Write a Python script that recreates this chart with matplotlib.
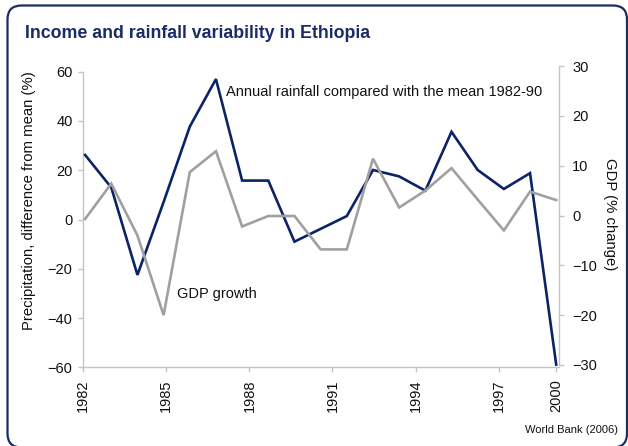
import matplotlib
matplotlib.use("Agg")
import matplotlib.pyplot as plt
from matplotlib.patches import FancyBboxPatch
from matplotlib.transforms import IdentityTransform

plt.rcParams['font.family'] = ['Liberation Sans', 'DejaVu Sans']

# Data
years = list(range(1982, 2001))
rainfall = [26.2, 13.0, -22.5, 7.1, 37.7, 57.0, 15.8, 15.8, -9.0, -3.8,
            1.4, 20.1, 17.5, 11.7, 35.6, 20.1, 12.4, 18.8, -58.9]
gdp_growth = [-0.7, 6.4, -4.0, -20.0, 8.7, 12.9, -2.2, -0.1, -0.1, -6.8,
              -6.8, 11.4, 1.6, 5.0, 9.5, 3.2, -3.0, 4.8, 3.1]
xtick_labels = ['1982', '1985', '1988', '1991', '1994', '1997', '2000']
xtick_pos = [1981.92, 1985.10, 1988.28, 1991.45, 1994.63, 1997.81, 2000.0]
left_ticks = [-60, -40, -20, 0, 20, 40, 60]
right_ticks = [-30, -20, -10, 0, 10, 20, 30]

NAVY = '#0c2365'
FRAME = '#1b2b68'
GREY = '#a0a0a0'
AXIS = '#c4c4c4'
TXT = '#111111'

W, H = 628, 446
fig = plt.figure(figsize=(W / 100, H / 100), dpi=100)

def box(x0, y_top, x1, y_bot):
    return [x0 / W, (H - y_bot) / H, (x1 - x0) / W, (y_bot - y_top) / H]

ax = fig.add_axes(box(83, 71.7, 559, 367.3))
ax2 = fig.add_axes(box(83, 66, 559, 365), sharex=ax)
ax2.patch.set_visible(False)

ax.plot(years, rainfall, color=NAVY, lw=1.9, solid_joinstyle='miter', zorder=3)
ax2.plot(years, gdp_growth, color=GREY, lw=1.9, solid_joinstyle='miter', zorder=2)

ax.set_xlim(1981.924, 2000.107)
ax.set_ylim(-60, 60)
ax2.set_ylim(-30, 30)

for s in ['top', 'right']:
    ax.spines[s].set_visible(False)
for s in ['left', 'bottom']:
    ax.spines[s].set_color(AXIS)
    ax.spines[s].set_linewidth(1.0)
for s in ['top', 'left', 'bottom']:
    ax2.spines[s].set_visible(False)
ax2.spines['right'].set_color(AXIS)
ax2.spines['right'].set_linewidth(1.0)

ax.set_yticks(left_ticks)
ax.set_xticks(xtick_pos)
ax.set_xticklabels(xtick_labels, rotation=90)
ax.tick_params(axis='both', colors=AXIS, labelcolor=TXT, labelsize=10.5,
               length=3.5, width=1.0, direction='out')
ax.tick_params(axis='y', pad=4)
ax.tick_params(axis='x', pad=5)

ax2.yaxis.tick_right()
ax2.set_yticks(right_ticks)
ax2.tick_params(axis='y', colors=AXIS, labelcolor=TXT, labelsize=10.5,
                length=3.5, width=1.0, direction='out', pad=6)
ax2.tick_params(axis='x', bottom=False, labelbottom=False)

fig.text(29 / W, 1 - 201 / H, 'Precipitation, difference from mean (%)',
         rotation=90, ha='center', va='center', fontsize=10.7, color=TXT)
fig.text(610 / W, 1 - 214 / H, 'GDP (% change)', rotation=-90,
         ha='center', va='center', fontsize=10.7, color=TXT)

ax.annotate('Annual rainfall compared with the mean 1982-90',
            xy=(226, H - 92.3), xycoords='figure pixels',
            ha='left', va='center', fontsize=10.5, color=TXT)
ax.annotate('GDP growth', xy=(177, H - 294), xycoords='figure pixels',
            ha='left', va='center', fontsize=10.5, color=TXT)

fig.text(25 / W, 1 - 33 / H, 'Income and rainfall variability in Ethiopia',
         ha='left', va='center', fontsize=12.8, fontweight='bold', color=FRAME)
fig.text(618 / W, 1 - 430 / H, 'World Bank (2006)', ha='right', va='center',
         fontsize=8, color=TXT)

frame = FancyBboxPatch((7.5, -1.5), 619.5, 442,
                       boxstyle='round,pad=0,rounding_size=14',
                       transform=IdentityTransform(), fill=False,
                       edgecolor=FRAME, linewidth=1.6, clip_on=False)
fig.patches.append(frame)

fig.savefig('out.png', dpi=100)
